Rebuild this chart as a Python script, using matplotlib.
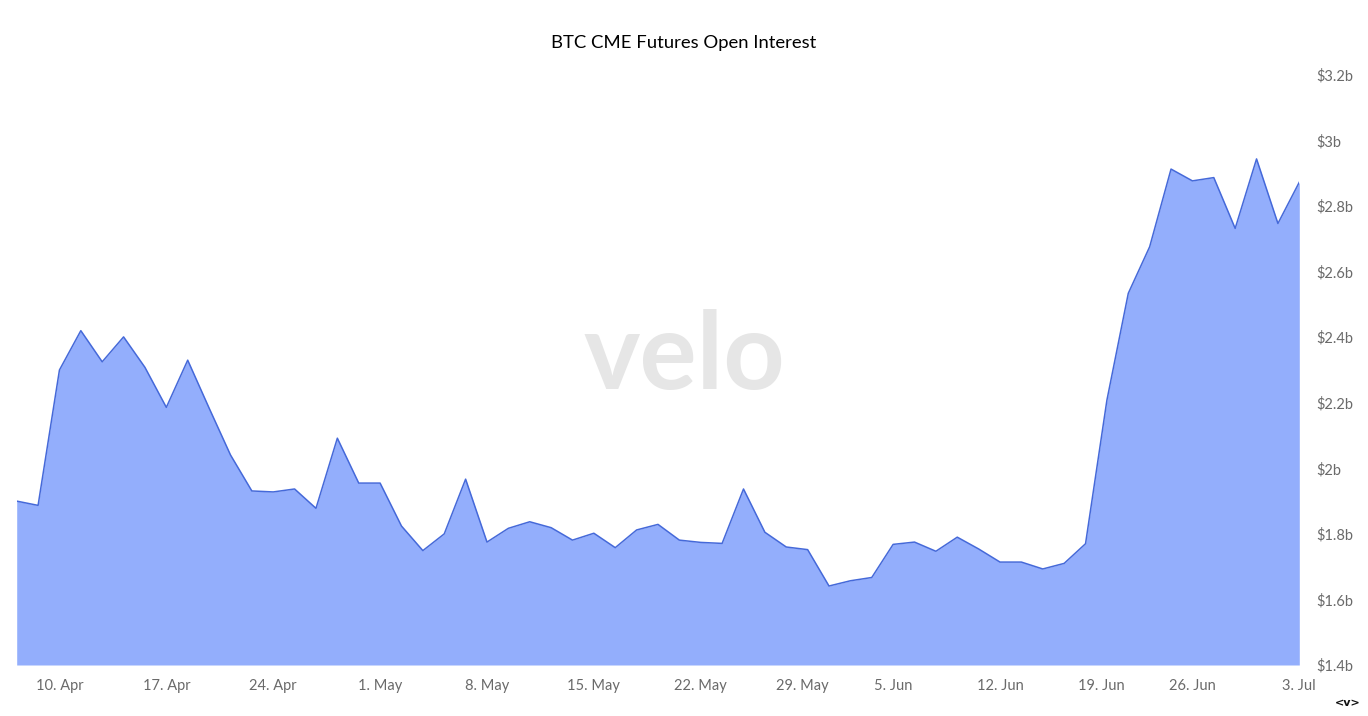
import numpy as np
import pandas as pd
import matplotlib.pyplot as plt
from matplotlib.ticker import FuncFormatter

# CME trading days (Memorial Day and Juneteenth closed)
holidays = ["2023-05-29", "2023-06-19"]
dates = pd.bdate_range("2023-04-06", "2023-07-03")
dates = dates[~dates.isin(pd.to_datetime(holidays))]

# open interest, $b
oi = [1.900, 1.887, 2.300, 2.420, 2.325, 2.401, 2.308, 2.186, 2.330, 2.184,
      2.041, 1.931, 1.928, 1.937, 1.878, 2.092, 1.955, 1.955, 1.824, 1.749,
      1.800, 1.967, 1.775, 1.817, 1.837, 1.819, 1.781, 1.802, 1.758, 1.812,
      1.829, 1.781, 1.774, 1.771, 1.937, 1.805, 1.760, 1.752, 1.641, 1.657,
      1.667, 1.768, 1.775, 1.747, 1.790, 1.754, 1.714, 1.714, 1.693, 1.710,
      1.770, 2.208, 2.534, 2.676, 2.913, 2.877, 2.887, 2.732, 2.944, 2.747,
      2.873]

tick_dates = pd.to_datetime(["2023-04-10", "2023-04-17", "2023-04-24", "2023-05-01",
                             "2023-05-08", "2023-05-15", "2023-05-22", "2023-05-29",
                             "2023-06-05", "2023-06-12", "2023-06-19", "2023-06-26",
                             "2023-07-03"])
tick_labels = ["10. Apr", "17. Apr", "24. Apr", "1. May", "8. May", "15. May",
               "22. May", "29. May", "5. Jun", "12. Jun", "19. Jun", "26. Jun", "3. Jul"]
y_ticks = [1.4, 1.6, 1.8, 2.0, 2.2, 2.4, 2.6, 2.8, 3.0, 3.2]

# ordinal x axis: one slot per trading day
idx = np.arange(len(dates))
day_num = dates.asi8 / 8.64e13
tick_pos = np.interp(tick_dates.asi8 / 8.64e13, day_num, idx)

fig = plt.figure(figsize=(13.68, 7.16), dpi=100)
ax = fig.add_axes([16.7 / 1368, 51 / 716, (1299.3 - 16.7) / 1368, 590 / 716])

ax.fill_between(idx, oi, 1.4, color="#93aefc", lw=0, zorder=2)
ax.plot(idx, oi, color="#4569d9", lw=1.1, zorder=3)

ax.set_xlim(0, len(dates) - 1)
ax.set_ylim(1.4, 3.2)
ax.set_xticks(tick_pos)
ax.set_xticklabels(tick_labels)
ax.set_yticks(y_ticks)
ax.yaxis.set_major_formatter(FuncFormatter(lambda v, p: "${:g}b".format(round(v, 1))))
ax.yaxis.tick_right()
for s in ax.spines.values():
    s.set_visible(False)
ax.tick_params(axis="both", length=0, colors="#6a6a6a", labelsize=10.5)
ax.tick_params(axis="x", pad=10)
ax.tick_params(axis="y", pad=12)
for lbl in ax.get_xticklabels():
    lbl.set_family("Lato")
for t in ax.yaxis.get_major_ticks():
    t.label2.set_family("Lato")
    t.label2.set_horizontalalignment("left")

fig.text(684 / 1368, 1 - 358 / 716, "velo", ha="center", va="center",
         fontsize=77, fontweight="bold", family="Lato", color="#e6e6e6", zorder=1)

fig.text(684 / 1368, 1 - 43 / 716, "BTC CME Futures Open Interest", ha="center",
         va="center", fontsize=13.3, family="Lato", color="#000000")
fig.text(1348 / 1368, 1 - 703 / 716, "<v>", ha="center", va="center",
         fontsize=8, fontweight="bold", family="DejaVu Sans", color="#111111")

fig.savefig("out.png", dpi=100)
